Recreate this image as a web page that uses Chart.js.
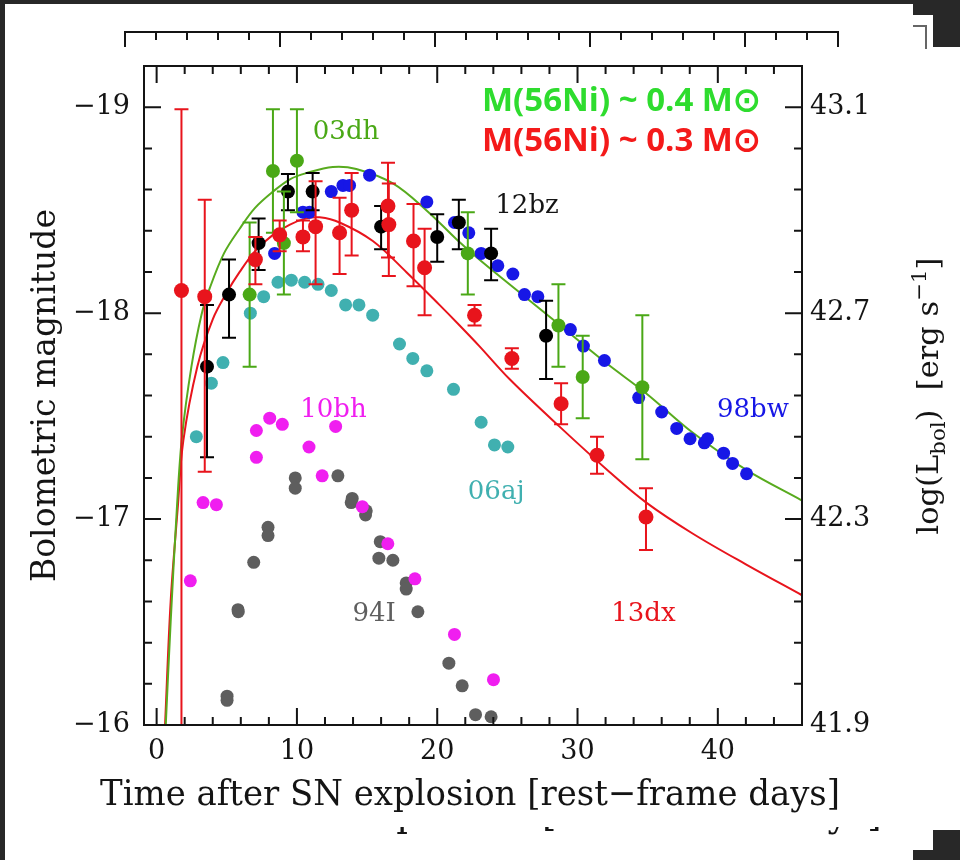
<!DOCTYPE html>
<html>
<head>
<meta charset="utf-8">
<script src="https://cdn.jsdelivr.net/npm/chart.js@4.4.1/dist/chart.umd.min.js"></script>
<style>
  html, body { margin: 0; padding: 0; background: #282828; overflow: hidden; }
  #stage { position: relative; width: 960px; height: 860px; }
  .sheet { position: absolute; background: #fff; }
  .dark { position: absolute; background: #282828; }
  canvas { position: absolute; left: 0; top: 0; }
</style>
</head>
<body>
<div id="stage">
  <div class="sheet" style="left:5px; top:4px; width:955px; height:856px;"></div>
  <div class="dark" style="left:913px; top:0; width:47px; height:15px;"></div>
  <div class="dark" style="left:933px; top:0; width:27px; height:47px;"></div>
  <div class="dark" style="left:933px; top:830px; width:27px; height:30px;"></div>
  <div class="dark" style="left:913px; top:850px; width:47px; height:10px;"></div>
  <div style="position:absolute; left:913px; top:25px; width:12px; height:22px; border-top:2px solid #666; border-right:2px solid #666;"></div>
  <canvas id="chart" width="960" height="860"></canvas>
</div>
<script>
// axis ticks
const dayTicks = [0, 10, 20, 30, 40];
const magTicks = [-19, -18, -17, -16];
const lumTicks = [43.1, 42.7, 42.3, 41.9];

// SN 2013dx (red, with error bars)
const days13dx = [1.77, 3.43, 7.04, 8.77, 10.43, 11.33, 13.04, 13.9, 16.49, 16.55, 18.31, 19.1, 22.66, 25.32, 28.83, 31.39, 34.88];
const mag13dx = [-18.11, -18.08, -18.26, -18.38, -18.37, -18.42, -18.39, -18.50, -18.52, -18.43, -18.35, -18.22, -17.99, -17.78, -17.56, -17.31, -17.01];
const errUp13dx = [0.88, 0.47, 0.11, 0.07, 0.08, 0.22, 0.17, 0.18, 0.21, 0.20, 0.18, 0.19, 0.05, 0.05, 0.10, 0.09, 0.14];
const errDn13dx = [2.5, 0.85, 0.12, 0.08, 0.07, 0.28, 0.20, 0.22, 0.25, 0.25, 0.22, 0.23, 0.05, 0.05, 0.10, 0.09, 0.16];

// SN 2012bz (black)
const days12bz = [3.59, 5.16, 7.27, 9.36, 11.12, 16.0, 20.0, 21.54, 23.84, 27.76];
const mag12bz = [-17.74, -18.09, -18.34, -18.59, -18.59, -18.42, -18.37, -18.44, -18.29, -17.89];
const errUp12bz = [0.30, 0.17, 0.12, 0.085, 0.09, 0.10, 0.11, 0.11, 0.12, 0.17];
const errDn12bz = [0.44, 0.21, 0.13, 0.09, 0.09, 0.11, 0.12, 0.13, 0.13, 0.21];

// SN 2003dh (green)
const days03dh = [6.63, 8.29, 9.07, 10.0, 22.18, 28.64, 30.37, 34.62];
const mag03dh = [-18.09, -18.69, -18.34, -18.74, -18.29, -17.94, -17.69, -17.64];
const errUp03dh = [0.35, 0.30, 0.25, 0.25, 0.20, 0.20, 0.20, 0.35];
const errDn03dh = [0.35, 0.30, 0.25, 0.25, 0.20, 0.20, 0.20, 0.35];

// SN 1998bw (blue)
const days98bw = [8.41, 10.43, 10.9, 12.45, 13.28, 13.75, 15.18, 19.26, 21.23, 22.25, 23.13, 24.32, 25.39, 26.22, 27.17, 29.49, 30.42, 31.92, 34.36, 36.0, 37.07, 38.02, 39.04, 39.27, 40.41, 41.05, 42.05];
const mag98bw = [-18.29, -18.49, -18.49, -18.59, -18.62, -18.62, -18.67, -18.54, -18.44, -18.39, -18.29, -18.23, -18.19, -18.09, -18.08, -17.92, -17.84, -17.77, -17.59, -17.52, -17.44, -17.39, -17.37, -17.39, -17.32, -17.27, -17.22];

// SN 2006aj (teal)
const days06aj = [2.83, 3.9, 4.73, 6.68, 7.63, 8.65, 9.6, 10.55, 11.5, 12.45, 13.47, 14.42, 15.4, 17.31, 18.26, 19.26, 21.16, 23.13, 24.08, 25.03];
const mag06aj = [-17.40, -17.66, -17.76, -18.0, -18.08, -18.15, -18.16, -18.15, -18.14, -18.11, -18.04, -18.04, -17.99, -17.85, -17.78, -17.72, -17.63, -17.47, -17.36, -17.35];

// SN 2010bh (magenta)
const days10bh = [2.4, 3.31, 4.26, 7.11, 7.11, 8.06, 8.96, 10.86, 11.8, 12.76, 14.66, 16.48, 18.41, 21.23, 24.01];
const mag10bh = [-16.70, -17.08, -17.07, -17.30, -17.43, -17.49, -17.46, -17.35, -17.21, -17.45, -17.06, -16.88, -16.71, -16.44, -16.22];

// SN 1994I (grey)
const days94I = [5.02, 5.02, 5.8, 5.82, 6.92, 7.94, 7.94, 9.88, 9.88, 12.92, 13.87, 13.94, 14.89, 14.94, 15.94, 15.84, 16.84, 17.79, 17.79, 18.62, 20.83, 21.78, 22.73, 23.84];
const mag94I = [-16.14, -16.12, -16.56, -16.55, -16.79, -16.96, -16.92, -17.20, -17.15, -17.21, -17.08, -17.10, -17.02, -17.04, -16.89, -16.81, -16.80, -16.69, -16.66, -16.55, -16.30, -16.19, -16.05, -16.04];

// model curves
const modelGreenDays = [0.45, 0.65, 1.0, 1.45, 1.81, 2.48, 3.19, 3.78, 4.8, 5.92, 7.0, 8.29, 9.5, 10.67, 12.56, 14.23, 16.84, 19.22, 21.35, 23.0, 25.15, 28.23, 32.0, 34.9, 38.2, 42.0, 46.0];
const modelGreenMag = [-15.7, -16.0, -16.5, -17.06, -17.40, -17.74, -17.99, -18.12, -18.29, -18.41, -18.51, -18.59, -18.65, -18.68, -18.71, -18.70, -18.63, -18.50, -18.36, -18.26, -18.14, -17.97, -17.76, -17.61, -17.42, -17.24, -17.09];
const modelRedDays = [0.4, 0.6, 1.0, 1.5, 1.9, 2.9, 4.0, 5.0, 5.92, 7.0, 8.29, 9.5, 10.67, 11.62, 13.04, 15.41, 17.79, 20.16, 21.6, 23.0, 25.15, 28.7, 32.26, 34.9, 38.2, 42.0, 46.0];
const modelRedMag = [-15.7, -16.0, -16.6, -17.05, -17.38, -17.74, -17.97, -18.1, -18.20, -18.30, -18.38, -18.43, -18.46, -18.465, -18.44, -18.35, -18.20, -18.04, -17.94, -17.84, -17.68, -17.45, -17.23, -17.08, -16.93, -16.78, -16.63];

const SERIF = '"DejaVu Serif", "Liberation Serif", serif';
const INK = '#141414';
const RED = '#e8141c', GREEN = '#4aa816', BLUE = '#1717e6', TEAL = '#40b0b0', MAGENTA = '#f01ef0', GREY = '#5e5e5e';
const X_TITLE = 'Time after SN explosion [rest\u2212frame days]';

// name tags, placed in data coordinates
const tags = [
  { text: '03dh', day: 13.5, mag: -18.88, color: GREEN },
  { text: '12bz', day: 26.4, mag: -18.52, color: INK },
  { text: '10bh', day: 12.6, mag: -17.53, color: MAGENTA },
  { text: '06aj', day: 24.2, mag: -17.13, color: TEAL },
  { text: '98bw', day: 42.5, mag: -17.53, color: BLUE },
  { text: '94I', day: 15.5, mag: -16.54, color: GREY },
  { text: '13dx', day: 34.7, mag: -16.54, color: RED }
];

const pts = (xs, ys) => xs.map((x, i) => ({ x: x, y: ys[i] }));

// error bars are drawn just before the points of their own dataset
const errorBars = {
  id: 'errorBars',
  beforeDatasetDraw(chart, args) {
    const ds = chart.data.datasets[args.index];
    if (!ds.errUp) return;
    const { ctx, chartArea: a, scales: { x, y } } = chart;
    ctx.save();
    ctx.beginPath();
    ctx.rect(a.left, a.top, a.right - a.left, a.bottom - a.top);
    ctx.clip();
    ctx.strokeStyle = ds.backgroundColor;
    ctx.lineWidth = 2;
    ds.data.forEach((p, i) => {
      const px = x.getPixelForValue(p.x);
      const top = y.getPixelForValue(p.y - ds.errUp[i]);
      const bot = y.getPixelForValue(p.y + ds.errDn[i]);
      ctx.beginPath();
      ctx.moveTo(px, top); ctx.lineTo(px, bot);
      ctx.moveTo(px - 7, top); ctx.lineTo(px + 7, top);
      ctx.moveTo(px - 7, bot); ctx.lineTo(px + 7, bot);
      ctx.stroke();
    });
    ctx.restore();
  }
};

// frame with inward ticks on all four sides, plus the text overlays
const frameAndText = {
  id: 'frameAndText',
  afterDatasetsDraw(chart) {
    const { ctx, chartArea: a, scales: { x, y } } = chart;
    ctx.save();
    ctx.strokeStyle = INK;
    ctx.lineWidth = 2;
    ctx.strokeRect(a.left, a.top, a.right - a.left, a.bottom - a.top);
    ctx.beginPath();
    for (let d = 0; d < 46; d += 2) {
      const px = x.getPixelForValue(d);
      const len = d % 10 === 0 ? 17 : 8;
      ctx.moveTo(px, a.bottom); ctx.lineTo(px, a.bottom - len);
      ctx.moveTo(px, a.top); ctx.lineTo(px, a.top + len);
    }
    for (let k = 1; k < 16; k++) {
      const m = -19.2 + k * 0.2;
      const py = y.getPixelForValue(m);
      const len = Math.abs(m - Math.round(m)) < 1e-6 ? 17 : 8;
      ctx.moveTo(a.left, py); ctx.lineTo(a.left + len, py);
      ctx.moveTo(a.right, py); ctx.lineTo(a.right - len, py);
    }
    ctx.stroke();

    ctx.font = '26px ' + SERIF;
    ctx.textAlign = 'center';
    ctx.textBaseline = 'middle';
    tags.forEach(t => {
      ctx.fillStyle = t.color;
      ctx.fillText(t.text, x.getPixelForValue(t.day), y.getPixelForValue(t.mag));
    });

    ctx.textAlign = 'left';
    ctx.textBaseline = 'alphabetic';
    ctx.font = 'bold 33px "Open Sans", "Noto Sans", sans-serif';
    ctx.fillStyle = '#2edc2e';
    ctx.fillText('M(56Ni) ~ 0.4 M\u2299', 482, 111, 282);
    ctx.fillStyle = '#f41a1a';
    ctx.fillText('M(56Ni) ~ 0.3 M\u2299', 482, 151, 282);
    ctx.restore();
  },
  afterDraw(chart) {
    const ctx = chart.ctx;
    ctx.save();
    // x title, wider than the plot box
    ctx.fillStyle = INK;
    ctx.font = '36px ' + SERIF;
    ctx.textAlign = 'center';
    ctx.fillText(X_TITLE, 470, 805, 740);
    ctx.restore();

    ctx.save();
    // right-hand title with subscript and superscript
    ctx.fillStyle = INK;
    ctx.translate(938, 396);
    ctx.rotate(-Math.PI / 2);
    const big = '30px ' + SERIF, small = '21px ' + SERIF;
    const parts = [['log(L', big, 0], ['bol', small, 7], [')  [erg s', big, 0], ['\u22121', small, -12], [']', big, 0]];
    let total = 0;
    parts.forEach(p => { ctx.font = p[1]; total += ctx.measureText(p[0]).width; });
    ctx.scale(277 / total, 1);
    let cx = -total / 2;
    parts.forEach(p => {
      ctx.font = p[1];
      ctx.fillText(p[0], cx, p[2]);
      cx += ctx.measureText(p[0]).width;
    });
    ctx.restore();

    // edge of the second page peeking out above the plot
    ctx.save();
    ctx.strokeStyle = INK;
    ctx.lineWidth = 2;
    ctx.beginPath();
    ctx.moveTo(125, 47); ctx.lineTo(125, 32); ctx.lineTo(838, 32); ctx.lineTo(838, 47);
    for (let k = 1; k < 23; k++) {
      const px = 125 + k * 31;
      ctx.moveTo(px, 32); ctx.lineTo(px, (k % 5 === 0) ? 47 : 40);
    }
    ctx.stroke();
    // and its x title below
    ctx.beginPath();
    ctx.rect(0, 827, 960, 20);
    ctx.clip();
    ctx.font = '38px ' + SERIF;
    ctx.textAlign = 'center';
    ctx.fillStyle = INK;
    ctx.fillText(X_TITLE, 480, 826, 803);
    ctx.restore();
  }
};

const scatterSet = (label, xs, ys, color, order, radius) => ({
  type: 'scatter', label: label, data: pts(xs, ys), order: order,
  backgroundColor: color, borderWidth: 0, pointRadius: radius
});
const modelSet = (label, xs, ys, color, order) => ({
  type: 'line', label: label, data: pts(xs, ys), order: order,
  borderColor: color, borderWidth: 2, pointRadius: 0, fill: false,
  tension: 0.35
});

const data = {
  datasets: [
    modelSet('model 0.3', modelRedDays, modelRedMag, RED, 20),
    modelSet('model 0.4', modelGreenDays, modelGreenMag, '#58ab1e', 19),
    scatterSet('06aj', days06aj, mag06aj, TEAL, 9, 6.5),
    scatterSet('94I', days94I, mag94I, GREY, 8, 6.5),
    scatterSet('10bh', days10bh, mag10bh, MAGENTA, 7, 6.5),
    scatterSet('98bw', days98bw, mag98bw, BLUE, 6, 6.5),
    Object.assign(scatterSet('12bz', days12bz, mag12bz, '#000', 5, 7), { errUp: errUp12bz, errDn: errDn12bz }),
    Object.assign(scatterSet('03dh', days03dh, mag03dh, GREEN, 4, 7), { errUp: errUp03dh, errDn: errDn03dh }),
    Object.assign(scatterSet('13dx', days13dx, mag13dx, RED, 3, 7.5), { errUp: errUp13dx, errDn: errDn13dx })
  ]
};

new Chart(document.getElementById('chart'), {
  type: 'scatter',
  data: data,
  options: {
    responsive: false,
    animation: false,
    events: [],
    layout: { padding: { top: 66 } },
    plugins: { legend: { display: false }, tooltip: { enabled: false } },
    scales: {
      x: {
        type: 'linear', min: -0.9, max: 46,
        afterBuildTicks: s => { s.ticks = dayTicks.map(v => ({ value: v })); },
        afterFit: s => { s.height = 135; },
        grid: { display: false, drawTicks: false },
        border: { display: false },
        ticks: { font: { family: SERIF, size: 27 }, color: INK, padding: 11, maxRotation: 0, autoSkip: false }
      },
      y: {
        type: 'linear', position: 'left', min: -19.2, max: -16, reverse: true,
        afterBuildTicks: s => { s.ticks = magTicks.map(v => ({ value: v })); },
        afterFit: s => { s.width = 144; },
        grid: { display: false, drawTicks: false },
        border: { display: false },
        ticks: { font: { family: SERIF, size: 27 }, color: INK, padding: 14, autoSkip: false, callback: v => '\u2212' + Math.abs(v) },
        title: { display: true, text: 'Bolometric magnitude', font: { family: SERIF, size: 33 }, color: INK, padding: { top: 27 } }
      },
      yL: {
        type: 'linear', position: 'right', min: 41.9, max: 43.18,
        afterBuildTicks: s => { s.ticks = lumTicks.map(v => ({ value: v })); },
        afterFit: s => { s.width = 158; },
        grid: { display: false, drawTicks: false },
        border: { display: false },
        ticks: { font: { family: SERIF, size: 27 }, color: INK, padding: 8, autoSkip: false, callback: v => v.toFixed(1) }
      }
    }
  },
  plugins: [errorBars, frameAndText]
});
</script>
</body>
</html>
